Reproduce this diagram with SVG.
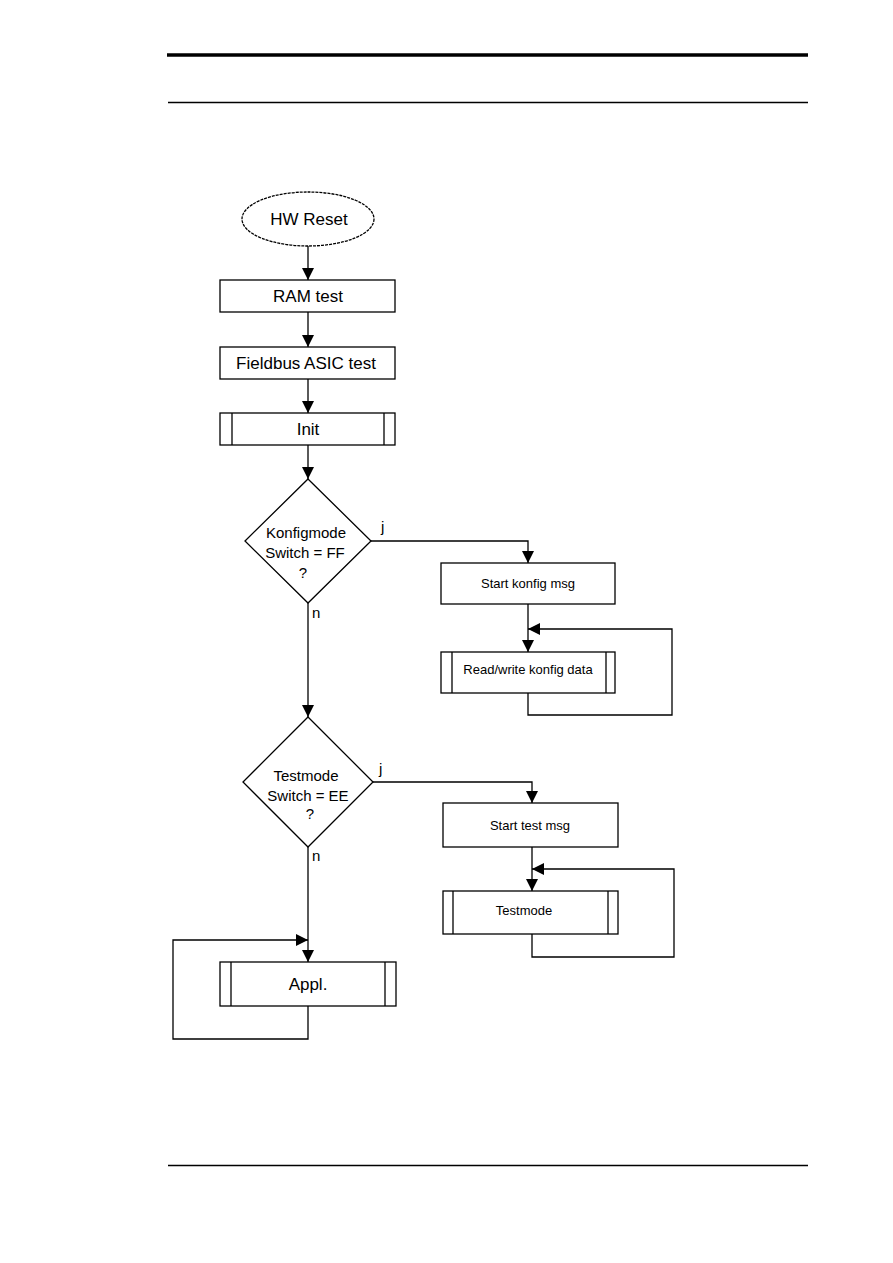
<svg xmlns="http://www.w3.org/2000/svg" width="893" height="1263" viewBox="0 0 893 1263">
<style>
.box{fill:#fff;stroke:#000;stroke-width:1.3}
.ln{fill:none;stroke:#000;stroke-width:1.3}
.t{font-family:"Liberation Sans",Arial,sans-serif;font-size:17px;fill:#000;text-anchor:middle}
.d{font-family:"Liberation Sans",Arial,sans-serif;font-size:15px;fill:#000;text-anchor:middle}
.s{font-family:"Liberation Sans",Arial,sans-serif;font-size:13px;fill:#000;text-anchor:middle}
.l{font-family:"Liberation Sans",Arial,sans-serif;font-size:15px;fill:#000}
</style>
<defs>
<marker id="ah" viewBox="0 0 12 12" refX="12" refY="6" markerWidth="12" markerHeight="12" markerUnits="userSpaceOnUse" orient="auto">
<path d="M0,0 L12,6 L0,12 Z" fill="#000"/>
</marker>
</defs>
<g id="page">
<line x1="167" y1="55" x2="808" y2="55" stroke="#000" stroke-width="3.5"/>
<line x1="168" y1="102.5" x2="808" y2="102.5" stroke="#000" stroke-width="1.5"/>
<line x1="168" y1="1165.5" x2="808" y2="1165.5" stroke="#000" stroke-width="1.5"/>
</g>
<g id="connectors">
<line class="ln" x1="308" y1="246" x2="308" y2="280" marker-end="url(#ah)"/>
<line class="ln" x1="308" y1="312" x2="308" y2="347" marker-end="url(#ah)"/>
<line class="ln" x1="308" y1="379" x2="308" y2="413" marker-end="url(#ah)"/>
<line class="ln" x1="308" y1="445" x2="308" y2="479" marker-end="url(#ah)"/>
<polyline class="ln" points="371,541 528,541 528,563" marker-end="url(#ah)"/>
<line class="ln" x1="528" y1="604" x2="528" y2="652" marker-end="url(#ah)"/>
<polyline class="ln" points="528,693 528,715 672,715 672,629 528,629" marker-end="url(#ah)"/>
<line class="ln" x1="308" y1="603" x2="308" y2="717" marker-end="url(#ah)"/>
<polyline class="ln" points="373,782 532,782 532,803" marker-end="url(#ah)"/>
<line class="ln" x1="532" y1="847" x2="532" y2="891" marker-end="url(#ah)"/>
<polyline class="ln" points="532,934 532,957 674,957 674,869 532,869" marker-end="url(#ah)"/>
<line class="ln" x1="308" y1="847" x2="308" y2="962" marker-end="url(#ah)"/>
<polyline class="ln" points="308,1006 308,1039 173,1039 173,940 308,940" marker-end="url(#ah)"/>
<text class="l" x="381" y="532">j</text>
<text class="l" x="312" y="618">n</text>
<text class="l" x="379" y="774">j</text>
<text class="l" x="312" y="861">n</text>
</g>
<g id="hw-reset">
<ellipse class="box" cx="308" cy="219" rx="66" ry="27" stroke-dasharray="3,1"/>
<text class="t" x="309" y="225">HW Reset</text>
</g>
<g id="ram-test">
<rect class="box" x="220" y="280" width="175" height="32"/>
<text class="t" x="308" y="302">RAM test</text>
</g>
<g id="asic-test">
<rect class="box" x="220" y="347" width="175" height="32"/>
<text class="t" x="306" y="369">Fieldbus ASIC test</text>
</g>
<g id="init">
<rect class="box" x="220" y="413" width="175" height="32"/>
<line class="ln" x1="232" y1="413" x2="232" y2="445"/>
<line class="ln" x1="384" y1="413" x2="384" y2="445"/>
<text class="t" x="308" y="435">Init</text>
</g>
<g id="konfig-decision">
<polygon class="box" points="308,479 371,541 308,603 245,541"/>
<text class="d" x="306" y="538">Konfigmode</text>
<text class="d" x="305" y="558">Switch = FF</text>
<text class="d" x="303" y="578">?</text>
</g>
<g id="start-konfig">
<rect class="box" x="441" y="563" width="174" height="41"/>
<text class="s" x="528" y="588">Start konfig msg</text>
</g>
<g id="rw-konfig">
<rect class="box" x="441" y="652" width="174" height="41"/>
<line class="ln" x1="452" y1="652" x2="452" y2="693"/>
<line class="ln" x1="606" y1="652" x2="606" y2="693"/>
<text class="s" x="528" y="674">Read/write konfig data</text>
</g>
<g id="test-decision">
<polygon class="box" points="308,717 373,782 308,847 243,782"/>
<text class="d" x="306" y="781">Testmode</text>
<text class="d" x="308" y="801">Switch = EE</text>
<text class="d" x="310" y="819">?</text>
</g>
<g id="start-test">
<rect class="box" x="443" y="803" width="175" height="44"/>
<text class="s" x="530" y="830">Start test msg</text>
</g>
<g id="testmode">
<rect class="box" x="443" y="891" width="175" height="43"/>
<line class="ln" x1="453" y1="891" x2="453" y2="934"/>
<line class="ln" x1="608" y1="891" x2="608" y2="934"/>
<text class="s" x="524" y="915">Testmode</text>
</g>
<g id="appl">
<rect class="box" x="220" y="962" width="176" height="44"/>
<line class="ln" x1="231" y1="962" x2="231" y2="1006"/>
<line class="ln" x1="385" y1="962" x2="385" y2="1006"/>
<text class="t" x="308" y="990">Appl.</text>
</g>
</svg>
